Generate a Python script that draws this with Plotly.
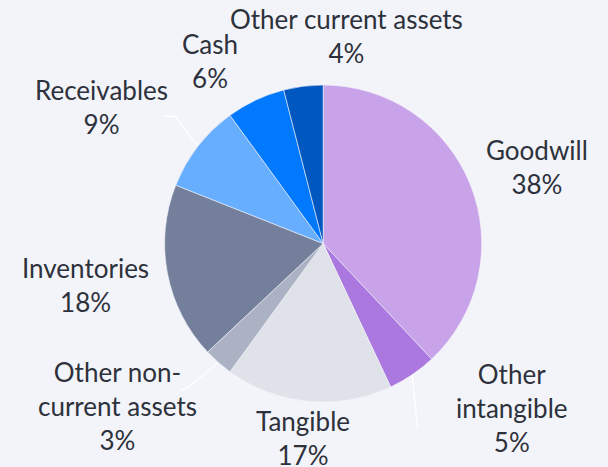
import math
import plotly.graph_objects as go

# asset split, clockwise from 12 o'clock
labels = ["Goodwill", "Other<br>intangible", "Tangible", "Other non-<br>current assets",
          "Inventories", "Receivables", "Cash", "Other current assets"]
shares = [38, 5, 17, 3, 18, 9, 6, 4]
colors = ["#C8A3E9", "#AA78DF", "#DFE2E9", "#ABB2C3", "#737F9B", "#67AEFF", "#0079FF", "#0057C0"]

W, H = 608, 467
dom_x = [0.27, 0.793]
dom_y = [0.139, 0.818]

# label nudges in px (dx right, dy down) from a point at 1.35 r on the slice mid angle
label_nudge = [(15, 2), (69, -13), (0, -19), (-64, 2), (-27, 1), (-53, -5), (-22, 11), (50, 5)]
# slices that get a white leader line: index -> (elbow dx, elbow dy, tail dx) from the slice edge
leaders = {5: (-23, -30, -12), 3: (-33, 27, -5), 1: (5, 52, 0)}

fig = go.Figure()
fig.add_trace(go.Pie(
    labels=labels,
    values=shares,
    textinfo="none",
    sort=False,
    direction="clockwise",
    rotation=0,
    marker=dict(colors=colors, line=dict(color="#F3F4F9", width=0.6)),
    domain=dict(x=dom_x, y=dom_y),
    automargin=False,
    showlegend=False,
    hoverinfo="label+percent",
))

# pie geometry in px
cx = (dom_x[0] + dom_x[1]) / 2 * W
cy = (1 - (dom_y[0] + dom_y[1]) / 2) * H
r = min((dom_x[1] - dom_x[0]) * W, (dom_y[1] - dom_y[0]) * H) / 2

total = sum(shares)
cum = 0
for i, (lab, v) in enumerate(zip(labels, shares)):
    mid = (cum + v / 2) / total * 2 * math.pi
    cum += v
    s, c = math.sin(mid), math.cos(mid)
    px = cx + 1.35 * r * s + label_nudge[i][0]
    py = cy - 1.35 * r * c + label_nudge[i][1]
    fig.add_annotation(
        x=px / W, y=1 - py / H, xref="paper", yref="paper",
        text=f"{lab}<br>{v}%", showarrow=False,
        xanchor="center", yanchor="middle", align="center",
        font=dict(family="Lato", size=26, color="#2D313B"),
    )
    if i in leaders:
        ex, ey = cx + r * s, cy - r * c
        dx, dy, tail = leaders[i]
        pts = [(ex, ey), (ex + dx, ey + dy), (ex + dx + tail, ey + dy)]
        path = "M " + " L ".join(f"{x / W},{1 - y / H}" for x, y in pts)
        fig.add_shape(type="path", path=path, xref="paper", yref="paper",
                      line=dict(color="#FFFFFF", width=1.2))

fig.update_layout(
    width=W, height=H,
    margin=dict(l=0, r=0, t=0, b=0),
    paper_bgcolor="#F3F4F9",
    plot_bgcolor="#F3F4F9",
)

fig.write_html("out.html", config={"displayModeBar": False},
               post_script="document.body.style.margin='0';")
